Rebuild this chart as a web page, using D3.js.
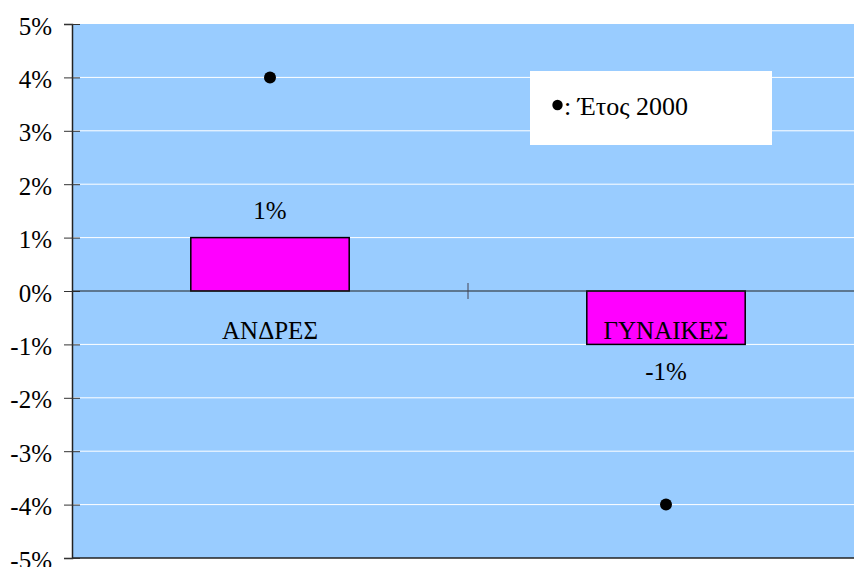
<!DOCTYPE html>
<html><head><meta charset="utf-8">
<script src="https://cdn.jsdelivr.net/npm/d3@7"></script>
<style>body{margin:0;background:#fff}svg{display:block}</style>
</head><body><svg id="c" width="854" height="567"></svg>
<script>
const categories = ["ΑΝΔΡΕΣ", "ΓΥΝΑΙΚΕΣ"];
const barValues = [1, -1];
const barLabels = ["1%", "-1%"];
const year2000 = [4, -4];
const yTicks = [5,4,3,2,1,0,-1,-2,-3,-4,-5];
const legendText = ": Έτος 2000";

(function(){
const FF = "Liberation Serif";
const svg = d3.select("#c");
const pL = 72, pR = 864, pT = 24, pB = 558;
const x = d3.scaleBand().domain(categories).range([pL, pR]);
const y = d3.scaleLinear().domain([-5, 5]).range([pB, pT]);

svg.append("rect").attr("x", pL).attr("y", pT).attr("width", pR-pL).attr("height", pB-pT).attr("fill", "#99ccff");

svg.selectAll(".g").data(yTicks.filter(d => d !== 0 && d !== -5 && d !== 5)).enter().append("line")
  .attr("x1", pL).attr("x2", pR).attr("y1", d => y(d)).attr("y2", d => y(d))
  .attr("stroke", "#fff").attr("stroke-width", 1);

svg.append("line").attr("x1", pL).attr("x2", pR).attr("y1", pB).attr("y2", pB).attr("stroke", "#222").attr("stroke-width", 1.5);

const yAxis = d3.axisLeft(y).tickValues(yTicks).tickFormat(d => d + "%").tickSize(8).tickPadding(12);
const ga = svg.append("g").attr("transform", `translate(${pL},0)`).call(yAxis);
ga.attr("font-family", FF).attr("font-size", 25);
ga.select(".domain").attr("stroke", "#222").attr("stroke-width", 1.5);
ga.selectAll(".tick line").attr("stroke", "#333").attr("x2", 8).attr("x1", -8);
ga.selectAll(".tick text").attr("fill", "#000").attr("x", -20).attr("dy", "0.4em");

const bw = x.bandwidth() * 0.4;
svg.selectAll(".bar").data(categories).enter().append("rect")
  .attr("x", d => x(d) + x.bandwidth()/2 - bw/2)
  .attr("y", (d,i) => y(Math.max(0, barValues[i])))
  .attr("width", bw)
  .attr("height", (d,i) => Math.abs(y(barValues[i]) - y(0)))
  .attr("fill", "#ff00ff").attr("stroke", "#000").attr("stroke-width", 1.5);

svg.append("line").attr("x1", pL).attr("x2", pR).attr("y1", y(0)).attr("y2", y(0)).attr("stroke", "#222").attr("stroke-width", 1.2);
svg.append("line").attr("x1", x(categories[1])).attr("x2", x(categories[1])).attr("y1", y(0)-8).attr("y2", y(0)+8).attr("stroke", "#445").attr("stroke-width", 1);

svg.selectAll(".dot").data(categories).enter().append("circle")
  .attr("cx", d => x(d) + x.bandwidth()/2).attr("cy", (d,i) => y(year2000[i])).attr("r", 6).attr("fill", "#000");

svg.selectAll(".vl").data(categories).enter().append("text")
  .attr("x", d => x(d) + x.bandwidth()/2)
  .attr("y", (d,i) => barValues[i] > 0 ? y(barValues[i]) - 18.5 : y(barValues[i]) + 36)
  .attr("text-anchor", "middle").attr("font-size", 25).attr("font-family", FF).text((d,i) => barLabels[i]);

svg.selectAll(".cl").data(categories).enter().append("text")
  .attr("x", d => x(d) + x.bandwidth()/2)
  .attr("y", y(0) + 48)
  .attr("text-anchor", "middle").attr("font-size", 25).attr("font-family", FF).text(d => d);

svg.append("rect").attr("x", 530).attr("y", 71).attr("width", 242).attr("height", 74).attr("fill", "#fff");
svg.append("circle").attr("cx", 557.5).attr("cy", 105).attr("r", 5.2).attr("fill", "#000");
svg.append("text").attr("x", 564).attr("y", 115).attr("font-size", 26).attr("font-family", FF).text(legendText);
})();
</script></body></html>
